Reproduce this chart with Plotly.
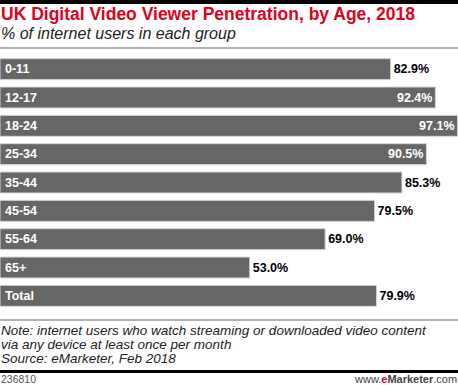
import plotly.graph_objects as go

categories = ["0-11", "12-17", "18-24", "25-34", "35-44", "45-54", "55-64", "65+", "Total"]
values = [82.9, 92.4, 97.1, 90.5, 85.3, 79.5, 69.0, 53.0, 79.9]
value_labels = ["82.9%", "92.4%", "97.1%", "90.5%", "85.3%", "79.5%", "69.0%", "53.0%", "79.9%"]
inside_set = {"12-17", "18-24", "25-34"}

W, H = 458, 385
MT, MB = 55, 75
PH = H - MT - MB


def py(pix):
    return (H - MB - pix) / PH


FONT = "Liberation Sans, Arial, sans-serif"

positions = ["inside" if c in inside_set else "outside" for c in categories]

fig = go.Figure(go.Bar(
    x=values, y=categories, orientation="h",
    marker=dict(color="#666666", line=dict(color="#d4d4d4", width=1)),
    text=value_labels, textposition=positions, insidetextanchor="end",
    insidetextfont=dict(color="white", size=12.5, family=FONT, weight="bold"),
    outsidetextfont=dict(color="black", size=12.5, family=FONT, weight="bold"),
    cliponaxis=False, hoverinfo="skip",
))

annotations = []
for c in categories:
    annotations.append(dict(x=0, xref="paper", y=c, yref="y", text="<b>%s</b>" % c,
                            showarrow=False, xanchor="left", xshift=3,
                            font=dict(color="white", size=12.5, family=FONT)))

annotations += [
    dict(x=0, xref="paper", y=py(14), yref="paper", xshift=-1,
         text="<b>UK Digital Video Viewer Penetration, by Age, 2018</b>",
         showarrow=False, xanchor="left", yanchor="middle",
         font=dict(color="#e2001a", size=17.5, family=FONT)),
    dict(x=0, xref="paper", y=py(33), yref="paper", xshift=-1,
         text="<i>% of internet users in each group</i>",
         showarrow=False, xanchor="left", yanchor="middle",
         font=dict(color="#222222", size=16, family=FONT)),
    dict(x=0, xref="paper", y=py(330), yref="paper", xshift=-1,
         text="<i>Note: internet users who watch streaming or downloaded video content</i>",
         showarrow=False, xanchor="left", yanchor="middle",
         font=dict(color="#222222", size=13.5, family=FONT)),
    dict(x=0, xref="paper", y=py(344), yref="paper", xshift=-1,
         text="<i>via any device at least once per month</i>",
         showarrow=False, xanchor="left", yanchor="middle",
         font=dict(color="#222222", size=13.5, family=FONT)),
    dict(x=0, xref="paper", y=py(358), yref="paper", xshift=-1,
         text="<i>Source: eMarketer, Feb 2018</i>",
         showarrow=False, xanchor="left", yanchor="middle",
         font=dict(color="#222222", size=13.5, family=FONT)),
    dict(x=0, xref="paper", y=py(379), yref="paper", xshift=-1,
         text="236810",
         showarrow=False, xanchor="left", yanchor="middle",
         font=dict(color="#555555", size=10.5, family=FONT)),
    dict(x=1, xref="paper", y=py(379), yref="paper", xshift=1,
         text='www.<b><span style="color:#e2001a">e</span>Marketer</b>.com',
         showarrow=False, xanchor="right", yanchor="middle",
         font=dict(color="#444444", size=11, family=FONT)),
]

shapes = [
    dict(type="rect", xref="paper", yref="paper", x0=0, x1=1, y0=py(4), y1=py(0),
         fillcolor="black", line=dict(width=0)),
    dict(type="line", xref="paper", yref="paper", x0=0, x1=1, y0=py(48), y1=py(48),
         line=dict(color="#999999", width=1.5)),
    dict(type="line", xref="paper", yref="paper", x0=0, x1=1, y0=py(320), y1=py(320),
         line=dict(color="#999999", width=1.5)),
    dict(type="rect", xref="paper", yref="paper", x0=0, x1=1, y0=py(373), y1=py(370),
         fillcolor="black", line=dict(width=0)),
]

fig.update_layout(
    width=W, height=H,
    margin=dict(l=0, r=0, t=MT, b=MB),
    paper_bgcolor="white", plot_bgcolor="white",
    bargap=0.26, showlegend=False,
    xaxis=dict(range=[0, 97.2], visible=False, fixedrange=True),
    yaxis=dict(autorange="reversed", visible=False, fixedrange=True),
    annotations=annotations, shapes=shapes,
    font=dict(family=FONT),
)

fig.write_html("out.html", config={"displayModeBar": False},
               post_script="document.body.style.margin='0';document.body.style.overflow='hidden';")
